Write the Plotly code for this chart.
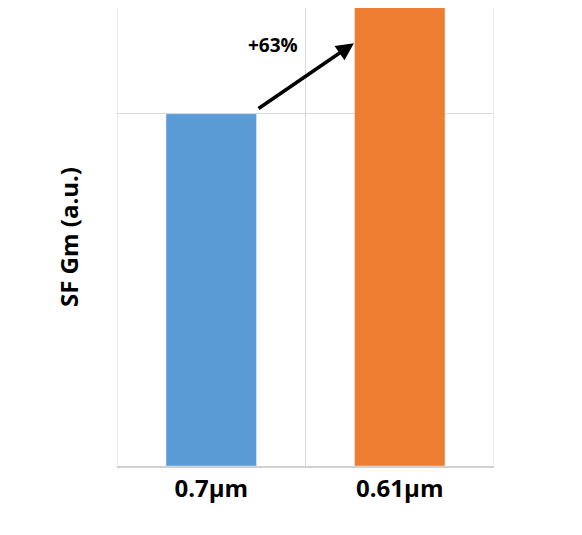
import plotly.graph_objects as go

categories = ["0.7µm", "0.61µm"]
values = [1.0, 1.63]
colors = ["#5b9bd5", "#ed7d31"]

fig = go.Figure()
fig.add_trace(go.Bar(x=[0, 1], y=values, marker_color=colors, width=0.48))

# arrow showing the gain
fig.add_annotation(x=0.757, y=1.20, ax=0.243, ay=1.012, xref="x", yref="y",
                   axref="x", ayref="y", showarrow=True, arrowhead=2,
                   arrowsize=1, arrowwidth=3.5, arrowcolor="black", text="")
fig.add_annotation(x=0.33, y=1.195, xref="x", yref="y", showarrow=False,
                   text="<b>+63%</b>", font=dict(size=19, color="black"))

# vertical grid lines at the outer edges
for xv in [-0.5, 1.5]:
    fig.add_shape(type="line", x0=xv, x1=xv, y0=0, y1=1.3, xref="x", yref="y",
                  line=dict(color="#d9d9d9", width=1))

fig.update_layout(
    width=582, height=535, plot_bgcolor="white", paper_bgcolor="white",
    margin=dict(l=109, r=96, t=0, b=77), showlegend=False,
    font=dict(family="Open Sans, DejaVu Sans", color="black"),
    xaxis=dict(range=[-0.5, 1.5], tickvals=[0, 1],
               ticktext=["<b>%s</b>" % c for c in categories],
               tickfont=dict(size=24), showgrid=False,
               showline=True, linecolor="#d0d0d0", linewidth=1.5,
               minor=dict(tick0=-0.5, dtick=1, showgrid=True, gridcolor="#d9d9d9")),
    yaxis=dict(range=[0, 1.3], dtick=1, showticklabels=False, gridcolor="#d9d9d9",
               zeroline=False, title=dict(text="<b>SF Gm (a.u.)</b>",
               font=dict(size=24), standoff=30)),
)
fig.write_html("out.html")
